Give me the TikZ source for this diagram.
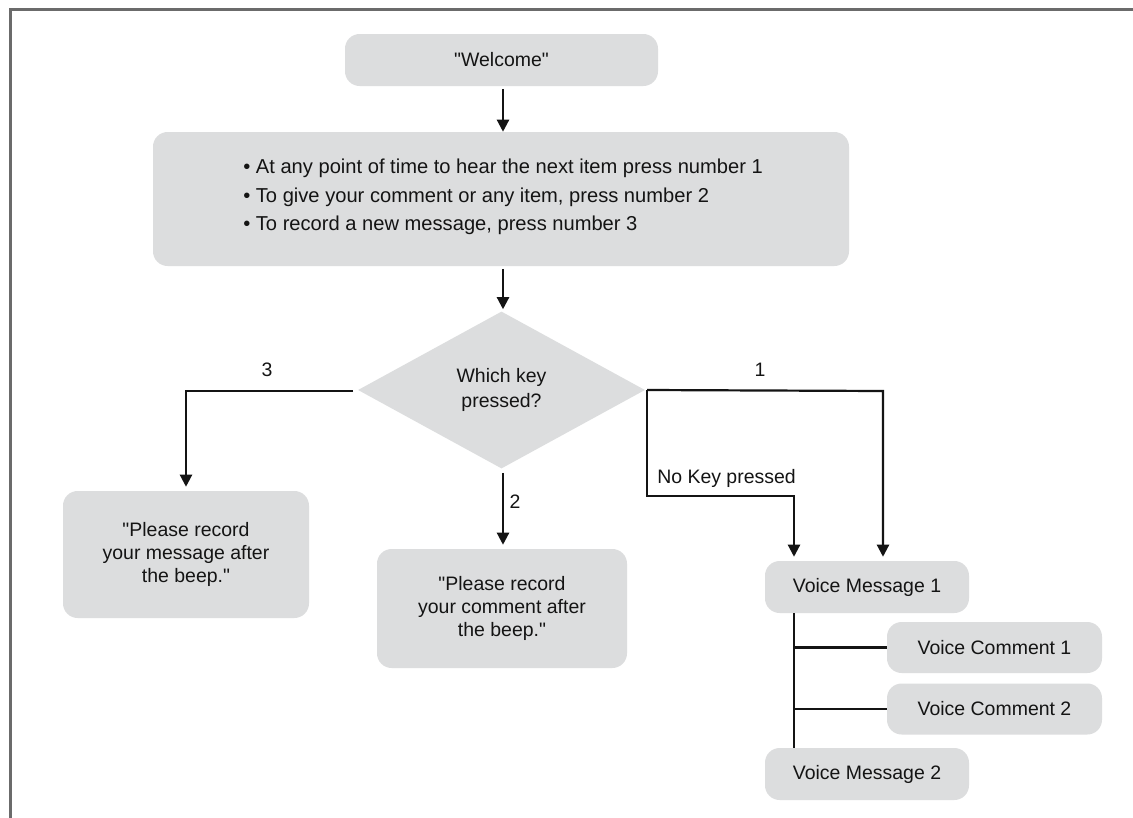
\documentclass[tikz,border=0pt]{standalone}
\usepackage{fontspec}
\setmainfont{Liberation Sans}[Ligatures=TeXOff]
\usetikzlibrary{shapes.geometric,arrows.meta}
\definecolor{boxgray}{HTML}{DCDDDE}
\definecolor{framegray}{HTML}{6B6B6B}
\definecolor{ink}{HTML}{141414}
\begin{document}
\begin{tikzpicture}[x=0.75pt,y=-0.75pt,
  every node/.style={text=ink},
  txt/.style={font=\fontsize{14.6pt}{17.25pt}\selectfont},
  rbox/.style={txt,rounded corners=11pt,fill=boxgray,inner sep=0pt,align=center},
  dbox/.style={txt,diamond,fill=boxgray,inner sep=0pt,align=center},
  conn/.style={line width=1.65pt,draw=ink},
  arr/.style={conn,-{Triangle[width=9pt,length=9pt]}},
  lbl/.style={txt,inner sep=0pt}]
\useasboundingbox (0,0) rectangle (1133,818);
\fill[white] (0,0) rectangle (1133,818);
% frame
\draw[framegray,line width=2.25pt] (10,818) -- (10,9) -- (1133,9);

% nodes
\node[rbox,minimum width=234.75pt,minimum height=39pt] (welcome) at (501.5,60) {"Welcome"};
\node[rbox,minimum width=522pt,minimum height=100.5pt] (main) at (501,199) {};
\node[txt,anchor=west,align=left,inner sep=0pt,font=\fontsize{15.1pt}{21.4pt}\selectfont] (items) at (243,197)
  {• At any point of time to hear the next item press number 1\\
   • To give your comment or any item, press number 2\\
   • To record a new message, press number 3};
\node[dbox,minimum width=215.25pt,minimum height=117.75pt,font=\fontsize{14.6pt}{18.5pt}\selectfont] (key) at (501.5,390) {Which key\\pressed?};
\node[rbox,minimum width=184.5pt,minimum height=95.25pt] (rec) at (186,554.5) {"Please record\\your message after\\the beep."};
\node[rbox,minimum width=187.5pt,minimum height=89.25pt] (com) at (502,608.5) {"Please record\\your comment after\\the beep."};
\node[rbox,minimum width=153pt,minimum height=39pt] (vm1) at (867,587) {Voice Message 1};
\node[rbox,minimum width=161.25pt,minimum height=38.25pt] (vc1) at (994.5,647.5) {Voice Comment 1};
\node[rbox,minimum width=161.25pt,minimum height=38.25pt] (vc2) at (994.5,709) {Voice Comment 2};
\node[rbox,minimum width=153pt,minimum height=39pt] (vm2) at (867,774) {Voice Message 2};

% helper coordinates
\coordinate (l0) at (353,391);
\coordinate (r1) at (883,391);
\coordinate (nk) at (647,496);
\coordinate (nk2) at (794,496);
\coordinate (t) at (794,0);

% connectors
\draw[arr] ([yshift=-2pt]welcome.south -| 503,0) -- (main.north -| 503,0);
\draw[arr] ([yshift=-2pt]main.south -| 503,0) -- ([yshift=1.5pt]key.north -| 503,0);
\draw[arr] (l0) -- (l0 -| rec.north) -- ([yshift=3pt]rec.north);
\draw[arr] ([yshift=-3pt]key.south -| 503,0) -- ([yshift=3pt]com.north -| 503,0);
\draw[arr] (key.east -| 647,0) -- (r1) -- ([yshift=3pt]r1 |- vm1.north);
\draw[arr] (key.east -| 647,0) -- (nk) -- (nk2) -- ([yshift=3pt]nk2 |- vm1.north);
\draw[conn] (t |- vm1.south) -- (t |- vm2.north);
\draw[conn] (t |- vc1.west) -- (vc1.west);
\draw[conn] (t |- vc2.west) -- (vc2.west);

% labels
\node[lbl] (l3) at (267,370) {3};
\node[lbl] (l2) at (515,502) {2};
\node[lbl] (l1) at (760,370) {1};
\node[lbl,anchor=west] (lnk) at (657,478) {No Key pressed};
\end{tikzpicture}
\end{document}
